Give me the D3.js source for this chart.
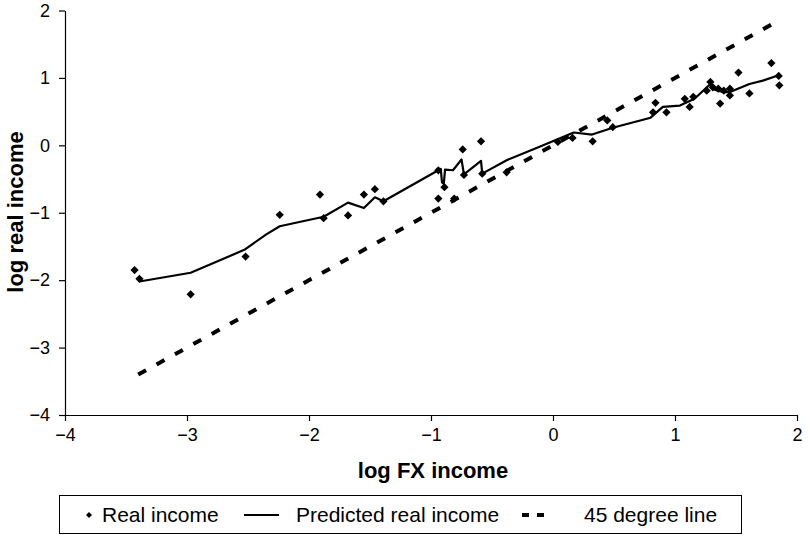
<!DOCTYPE html>
<html>
<head>
<meta charset="utf-8">
<script src="https://cdn.jsdelivr.net/npm/d3@7"></script>
<style>
  body { margin: 0; background: #fff; }
  svg { font-family: "Liberation Sans", Arial, sans-serif; }
</style>
</head>
<body>
<svg id="chart" width="808" height="535"></svg>
<script>
"use strict";

// observed points (log FX income, log real income)
var realX = [-3.43, -3.39, -2.97, -2.52, -2.24, -1.91, -1.88, -1.68, -1.55, -1.46, -1.39,
  -0.94, -0.94, -0.89, -0.81, -0.74, -0.73, -0.59, -0.58, -0.38,
  0.04, 0.16, 0.325, 0.445, 0.49, 0.82, 0.84, 0.93, 1.08, 1.12, 1.15, 1.26, 1.29,
  1.31, 1.355, 1.37, 1.40, 1.45, 1.45, 1.52, 1.61, 1.79, 1.85, 1.855]
var realY = [-1.85, -1.98, -2.21, -1.65, -1.03, -0.73, -1.08, -1.04, -0.73, -0.65, -0.83,
  -0.37, -0.79, -0.62, -0.79, -0.06, -0.44, 0.06, -0.42, -0.40,
  0.05, 0.11, 0.06, 0.37, 0.27, 0.49, 0.63, 0.49, 0.69, 0.57, 0.72, 0.81, 0.94,
  0.86, 0.84, 0.62, 0.81, 0.84, 0.74, 1.08, 0.77, 1.22, 1.03, 0.89]

// predicted line vertices
var predX = [-3.39, -2.97, -2.53, -2.35, -2.24, -1.88, -1.68, -1.55, -1.46, -1.39,
  -0.94, -0.92, -0.91, -0.895, -0.885, -0.82, -0.75, -0.73, -0.59, -0.58, -0.38, -0.11,
  0.17, 0.32, 0.49, 0.80, 0.90, 1.04, 1.16, 1.29, 1.33, 1.40, 1.45, 1.61, 1.72, 1.85]
var predY = [-2.02, -1.89, -1.55, -1.32, -1.20, -1.06, -0.85, -0.93, -0.77, -0.83,
  -0.37, -0.35, -0.55, -0.57, -0.36, -0.37, -0.21, -0.43, -0.23, -0.42, -0.22, -0.02,
  0.19, 0.16, 0.26, 0.41, 0.57, 0.59, 0.69, 0.91, 0.82, 0.79, 0.79, 0.91, 0.96, 1.04]

// 45 degree line ends
var diagX = [-3.4, 1.8]

var xTicks = [-4, -3, -2, -1, 0, 1, 2]
var yTicks = [-4, -3, -2, -1, 0, 1, 2]

var legendItems = ["Real income", "Predicted real income", "45 degree line"]

var svg = d3.select("#chart")

var x = d3.scaleLinear().domain([-4, 2]).range([65, 797])
var y = d3.scaleLinear().domain([-4, 2]).range([415, 10.5])
var fmt = d3.format("d")

// axes
svg.append("g")
  .attr("transform", "translate(0," + y(-4) + ")")
  .call(d3.axisBottom(x).tickValues(xTicks).tickFormat(fmt).tickSize(6).tickSizeOuter(0).tickPadding(7))
svg.append("g")
  .attr("transform", "translate(" + x(-4) + ",0)")
  .call(d3.axisLeft(y).tickValues(yTicks).tickFormat(fmt).tickSize(6).tickSizeOuter(0).tickPadding(9))

svg.selectAll(".domain, .tick line").attr("stroke", "#000").attr("stroke-width", 1.2)
svg.selectAll(".tick text")
  .attr("font-family", "Liberation Sans, Arial, sans-serif")
  .attr("font-size", 18)
  .attr("fill", "#000")

// axis titles
svg.append("text")
  .attr("x", 433).attr("y", 478)
  .attr("text-anchor", "middle")
  .attr("font-size", 22).attr("font-weight", "bold")
  .text("log FX income")
svg.append("text")
  .attr("transform", "translate(23,212) rotate(-90)")
  .attr("text-anchor", "middle")
  .attr("font-size", 22).attr("font-weight", "bold")
  .text("log real income")

// 45 degree line
svg.append("path")
  .datum(diagX)
  .attr("fill", "none")
  .attr("stroke", "#000")
  .attr("stroke-width", 4)
  .attr("stroke-dasharray", "9,12")
  .attr("d", d3.line().x(function(d) { return x(d) }).y(function(d) { return y(d) }))

// predicted line
svg.append("path")
  .datum(d3.range(predX.length))
  .attr("fill", "none")
  .attr("stroke", "#000")
  .attr("stroke-width", 2.2)
  .attr("stroke-linejoin", "round")
  .attr("d", d3.line().x(function(i) { return x(predX[i]) }).y(function(i) { return y(predY[i]) }))

// diamonds
var diamond = d3.symbol().type(d3.symbolSquare).size(34)
svg.append("g")
  .selectAll("path")
  .data(d3.range(realX.length))
  .enter()
  .append("path")
    .attr("d", diamond)
    .attr("fill", "#000")
    .attr("transform", function(i) {
      return "translate(" + x(realX[i]) + "," + y(realY[i]) + ") rotate(45)"
    })

// legend
var lg = svg.append("g")
lg.append("rect")
  .attr("x", 59.5).attr("y", 495.5)
  .attr("width", 682).attr("height", 38)
  .attr("fill", "#fff").attr("stroke", "#000").attr("stroke-width", 1)

lg.append("path")
  .attr("d", d3.symbol().type(d3.symbolSquare).size(18))
  .attr("transform", "translate(89,515) rotate(45)")
  .attr("fill", "#000")
lg.append("line")
  .attr("x1", 244).attr("x2", 279).attr("y1", 515).attr("y2", 515)
  .attr("stroke", "#000").attr("stroke-width", 2)
lg.append("line")
  .attr("x1", 522).attr("x2", 552).attr("y1", 515).attr("y2", 515)
  .attr("stroke", "#000").attr("stroke-width", 4)
  .attr("stroke-dasharray", "7,8")

var legendX = [102, 296, 584]
lg.selectAll("text.item")
  .data(legendItems)
  .enter()
  .append("text")
    .attr("class", "item")
    .attr("x", function(d, i) { return legendX[i] })
    .attr("y", 522)
    .attr("font-size", 21)
    .text(function(d) { return d })
</script>
</body>
</html>
